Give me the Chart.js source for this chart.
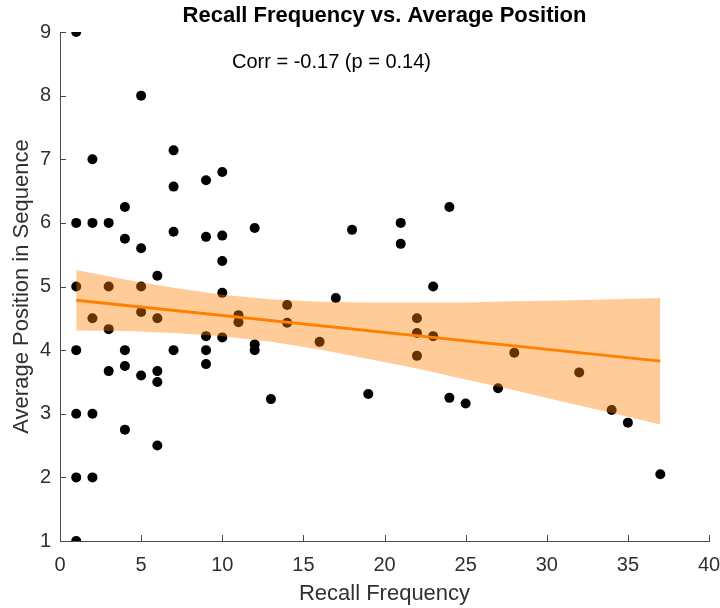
<!DOCTYPE html>
<html>
<head>
<meta charset="utf-8">
<title>Recall Frequency vs. Average Position</title>
<script src="https://cdn.jsdelivr.net/npm/chart.js@4.4.1/dist/chart.umd.min.js"></script>
<style>
    html, body { margin: 0; padding: 0; background: #fff; }
    #chart { display: block; }
</style>
</head>
<body>
<canvas id="chart" width="720" height="608"></canvas>
<script>
// --- Data ---
const recallFreq = [1, 1, 1, 1, 1, 1, 1, 2, 2, 2, 2, 2, 3, 3, 3, 3, 4, 4, 4, 4, 4,
    5, 5, 5, 5, 5, 6, 6, 6, 6, 6, 7, 7, 7, 7, 9, 9, 9, 9, 9, 10, 10, 10, 10, 10,
    11, 11, 12, 12, 12, 13, 14, 14, 16, 17, 18, 19, 21, 21, 22, 22, 22, 23, 23,
    24, 24, 25, 27, 28, 32, 34, 35, 37];
const avgPosition = [9, 6, 5, 4, 3, 2, 1, 7, 6, 4.5, 3, 2, 6, 5, 4.33, 3.67, 6.25, 5.75, 4, 3.75, 2.75,
    8, 5.6, 5, 4.6, 3.6, 5.17, 4.5, 3.67, 3.5, 2.5, 7.14, 6.57, 5.86, 4, 6.67, 5.78, 4.22, 4, 3.78, 6.8, 5.8, 5.4, 4.9, 4.2,
    4.55, 4.44, 5.92, 4.09, 4, 3.23, 4.71, 4.43, 4.13, 4.82, 5.89, 3.31, 6, 5.67, 4.5, 4.27, 3.91, 5, 4.22,
    6.25, 3.25, 3.16, 3.4, 3.96, 3.65, 3.06, 2.86, 2.05];

// regression line end points
const fitX = [1, 37];
const fitY = [4.785, 3.827];

// confidence band
const bandX = [1, 4, 7, 10, 13, 16, 19, 22, 25, 28, 31, 34, 37];
const bandUpper = [5.26, 5.11, 4.98, 4.87, 4.80, 4.76, 4.75, 4.75, 4.75, 4.77, 4.78, 4.80, 4.82];
const bandLower = [4.31, 4.30, 4.27, 4.22, 4.13, 4.01, 3.86, 3.71, 3.54, 3.37, 3.19, 3.01, 2.83];

const xTicks = [0, 5, 10, 15, 20, 25, 30, 35, 40];
const yTicks = [1, 2, 3, 4, 5, 6, 7, 8, 9];

const titleText = 'Recall Frequency vs. Average Position';
const corrText = 'Corr = -0.17 (p = 0.14)';
const xLabel = 'Recall Frequency';
const yLabel = 'Average Position in Sequence';

// --- Styles ---
const FONT = '"Liberation Sans", Arial, Helvetica, sans-serif';
const AXIS_COLOR = '#4a4a4a';
const TEXT_COLOR = '#303030';
const ORANGE = 'rgb(255, 127, 0)';
const BAND = 'rgba(255, 127, 0, 0.4)';

const toPoints = (xs, ys) => xs.map((x, i) => ({ x: x, y: ys[i] }));

// inward tick marks, titles and the correlation note
const decorPlugin = {
    id: 'decor',
    afterDraw(chart) {
        const ctx = chart.ctx;
        const area = chart.chartArea;
        const xs = chart.scales.x;
        const ys = chart.scales.y;
        const tickLen = 6;

        ctx.save();
        ctx.strokeStyle = AXIS_COLOR;
        ctx.lineWidth = 1;
        ctx.beginPath();
        xTicks.forEach(v => {
            const px = Math.round(xs.getPixelForValue(v)) + 0.5;
            ctx.moveTo(px, area.bottom);
            ctx.lineTo(px, area.bottom - tickLen);
        });
        yTicks.forEach(v => {
            const py = Math.round(ys.getPixelForValue(v)) + 0.5;
            ctx.moveTo(area.left, py);
            ctx.lineTo(area.left + tickLen, py);
        });
        ctx.stroke();

        ctx.fillStyle = '#000';
        ctx.textAlign = 'center';
        ctx.textBaseline = 'middle';
        ctx.font = 'bold 22px ' + FONT;
        ctx.fillText(titleText, (area.left + area.right) / 2, 16);

        ctx.font = '20px ' + FONT;
        ctx.textAlign = 'left';
        ctx.fillText(corrText, xs.getPixelForValue(10.6), 62);

        ctx.fillStyle = TEXT_COLOR;
        ctx.textAlign = 'center';
        ctx.font = '22px ' + FONT;
        ctx.fillText(xLabel, (area.left + area.right) / 2, 594);

        ctx.translate(22, (area.top + area.bottom) / 2);
        ctx.rotate(-Math.PI / 2);
        ctx.fillText(yLabel, 0, 0);
        ctx.restore();
    }
};

const chart = new Chart(document.getElementById('chart'), {
    type: 'scatter',
    data: {
        datasets: [
            {
                // fitted line, on top
                data: toPoints(fitX, fitY),
                showLine: true,
                borderColor: ORANGE,
                borderWidth: 3,
                pointRadius: 0,
                order: 0
            },
            {
                data: toPoints(bandX, bandUpper),
                showLine: true,
                borderWidth: 0,
                borderColor: 'rgba(0,0,0,0)',
                backgroundColor: BAND,
                pointRadius: 0,
                fill: '+1',
                order: 1
            },
            {
                data: toPoints(bandX, bandLower),
                showLine: true,
                borderWidth: 0,
                borderColor: 'rgba(0,0,0,0)',
                pointRadius: 0,
                fill: false,
                order: 2
            },
            {
                data: toPoints(recallFreq, avgPosition),
                pointRadius: 5,
                pointBackgroundColor: '#000',
                pointBorderWidth: 0,
                order: 3
            }
        ]
    },
    options: {
        responsive: false,
        animation: false,
        layout: { padding: { top: 32, right: 11, left: 0, bottom: 0 } },
        plugins: {
            legend: { display: false },
            tooltip: { enabled: false }
        },
        scales: {
            x: {
                type: 'linear',
                min: 0,
                max: 40,
                afterFit: s => {
                    s.height = 67;
                    s.paddingLeft = 0;
                    s.paddingRight = 11;
                },
                afterBuildTicks: s => { s.ticks = xTicks.map(v => ({ value: v })); },
                grid: { display: false, drawTicks: false },
                border: { display: true, color: AXIS_COLOR, width: 1 },
                ticks: { color: TEXT_COLOR, padding: 12, font: { family: FONT, size: 20 } }
            },
            y: {
                type: 'linear',
                min: 1,
                max: 9,
                afterFit: s => {
                    s.width = 60;
                    s.paddingTop = 32;
                    s.paddingBottom = 0;
                },
                afterBuildTicks: s => { s.ticks = yTicks.map(v => ({ value: v })); },
                grid: { display: false, drawTicks: false },
                border: { display: true, color: AXIS_COLOR, width: 1 },
                ticks: { color: TEXT_COLOR, padding: 9, font: { family: FONT, size: 20 } }
            }
        }
    },
    plugins: [decorPlugin]
});
</script>
</body>
</html>
